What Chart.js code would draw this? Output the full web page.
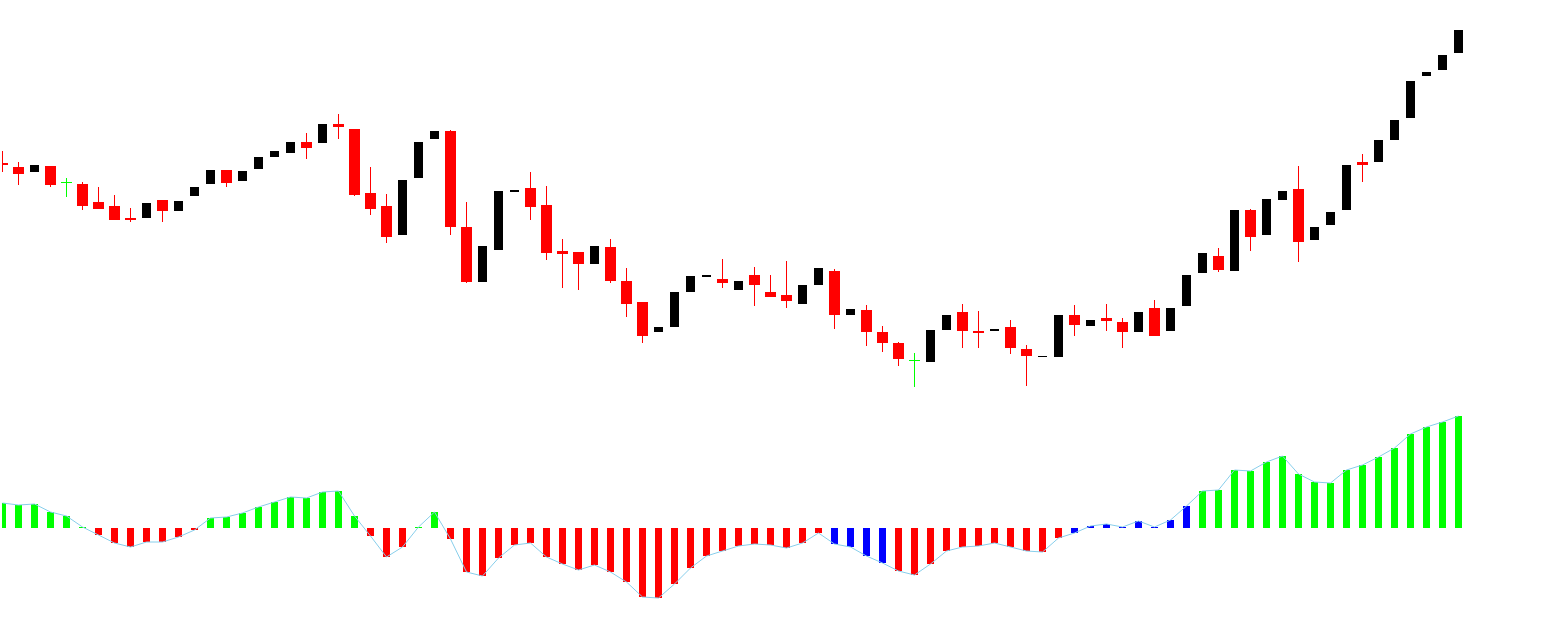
<!DOCTYPE html>
<html>
<head>
<meta charset="utf-8">
<script src="https://cdn.jsdelivr.net/npm/chart.js@4.4.1/dist/chart.umd.min.js"></script>
<style>
html,body{margin:0;padding:0;background:#ffffff;overflow:hidden}
#wrap{width:1568px;height:619px;position:relative}
</style>
</head>
<body>
<div id="wrap"><canvas id="c"></canvas></div>
<script>
// ---- Data ----
const bars = Array.from({length: 92}, (_, i) => i); // bar index (time axis)

const opens = [1837,1833,1828,1834,1818,1816,1798,1794,1782,1782,1800,1789,1804,1816,1830,1819,1831,1843,1847,1858,
               1857,1876,1871,1807,1794,1765,1822,1861,1869,1773,1718,1750,1808,1812,1795,1749,1748,1736,1753,1719,
               1698,1668,1673,1708,1723,1721,1710,1725,1708,1705,1696,1715,1729,1685,1690,1668,1657,1640,1638,1670,
               1688,1669,1669,1673,1651,1643,1643,1685,1674,1682,1678,1668,1692,1669,1694,1727,1744,1729,1790,1765,
               1800,1811,1760,1775,1790,1838,1838,1860,1882,1924,1930,1947];
const highs = [1849,1838,1835,1834,1822,1818,1813,1805,1792,1797,1800,1799,1813,1830,1830,1829,1843,1849,1858,1867,
               1876,1886,1871,1833,1806,1820,1858,1869,1870,1798,1754,1809,1810,1828,1814,1761,1748,1754,1761,1732,
               1698,1673,1708,1724,1725,1741,1719,1733,1725,1739,1715,1732,1731,1691,1695,1674,1658,1647,1670,1685,
               1696,1689,1671,1680,1655,1644,1685,1695,1680,1696,1682,1688,1700,1692,1725,1747,1752,1790,1791,1801,
               1809,1834,1773,1788,1835,1846,1860,1880,1919,1928,1945,1970];
const lows  = [1828,1815,1828,1813,1803,1790,1791,1780,1778,1782,1778,1789,1804,1816,1813,1819,1831,1843,1847,1841,
               1857,1861,1804,1785,1757,1765,1822,1861,1765,1717,1718,1750,1808,1780,1740,1712,1710,1736,1717,1683,
               1657,1668,1673,1708,1723,1712,1710,1694,1703,1692,1696,1715,1671,1685,1654,1648,1634,1613,1638,1670,
               1652,1652,1669,1646,1614,1643,1643,1664,1674,1669,1652,1668,1664,1669,1694,1727,1728,1729,1749,1765,
               1800,1738,1760,1775,1790,1818,1838,1860,1882,1924,1930,1947];
const closes = [1835,1826,1835,1815,1818,1794,1791,1780,1780,1797,1789,1799,1813,1830,1817,1829,1843,1849,1858,1852,
               1876,1873,1805,1791,1763,1820,1858,1869,1773,1718,1754,1809,1810,1793,1747,1746,1736,1754,1719,1696,
               1664,1673,1708,1724,1725,1717,1719,1715,1703,1699,1715,1732,1685,1691,1668,1657,1641,1640,1670,1685,
               1669,1667,1671,1652,1644,1644,1685,1675,1680,1679,1668,1688,1664,1692,1725,1747,1730,1790,1763,1801,
               1809,1758,1773,1788,1835,1835,1860,1880,1919,1928,1945,1970];

// oscillator histogram (same values drawn by the signal line)
const oscValues = [2.5,2.3,2.4,1.6,1.2,0.1,-0.7,-1.5,-1.9,-1.4,-1.4,-0.9,-0.2,1.0,1.1,1.5,2.1,2.6,3.1,3.0,
                   3.6,3.7,1.2,-0.8,-2.9,-1.9,0.1,1.6,-1.1,-4.4,-4.8,-3.0,-1.7,-1.5,-2.9,-3.6,-4.2,-3.7,-4.4,-5.4,
                   -6.9,-7.0,-5.6,-4.0,-2.8,-2.3,-1.8,-1.6,-1.7,-2.0,-1.5,-0.5,-1.6,-1.9,-2.8,-3.5,-4.3,-4.7,-3.6,-2.3,
                   -1.9,-1.8,-1.5,-1.9,-2.3,-2.4,-1.0,-0.5,0.2,0.4,0.1,0.7,0.1,0.8,2.2,3.7,3.8,5.8,5.7,6.6,
                   7.2,5.4,4.6,4.5,5.8,6.3,7.1,8.0,9.4,10.1,10.6,11.2];
// oscillator state: 1 = bullish, -1 = bearish, 0 = neutral
const oscState = [1,1,1,1,1,1,-1,-1,-1,-1,-1,-1,-1,1,1,1,1,1,1,1,
                  1,1,1,-1,-1,-1,1,1,-1,-1,-1,-1,-1,-1,-1,-1,-1,-1,-1,-1,
                  -1,-1,-1,-1,-1,-1,-1,-1,-1,-1,-1,-1,0,0,0,0,-1,-1,-1,-1,
                  -1,-1,-1,-1,-1,-1,-1,0,0,0,0,0,0,0,0,1,1,1,1,1,
                  1,1,1,1,1,1,1,1,1,1,1,1];

// ---- Styles ----
const BULL = '#000000', BEAR = '#FF0000', DOJI = '#00FF00';
const OSC_UP = '#00FF00', OSC_DN = '#FF0000', OSC_NEU = '#0000FF', SIGNAL = '#87CEEB';

const kind = bars.map(i => closes[i] > opens[i] ? 'bull' : (closes[i] < opens[i] ? 'bear' : 'doji'));
const candleColor = k => k === 'bull' ? BULL : (k === 'bear' ? BEAR : DOJI);

const wickData = bars.map(i => ({x: i, y: [lows[i], highs[i]]}));
const wickColors = bars.map(i => candleColor(kind[i]));

const bullIdx = bars.filter(i => kind[i] === 'bull');
const bearIdx = bars.filter(i => kind[i] !== 'bull');
const bullBodies = bullIdx.map(i => ({x: i, y: [opens[i], closes[i]]}));
const bearBodies = bearIdx.map(i => ({x: i, y: opens[i] === closes[i] ? [opens[i], opens[i] - 1] : [opens[i], closes[i]]}));
const bearColors = bearIdx.map(i => candleColor(kind[i]));

const oscData = bars.map(i => ({x: i, y: oscValues[i]}));
const oscColors = bars.map(i => oscState[i] > 0 ? OSC_UP : (oscState[i] < 0 ? OSC_DN : OSC_NEU));

const common = {grouped: false, borderWidth: 0, inflateAmount: 0, borderSkipped: false};

new Chart(document.getElementById('c'), {
  type: 'bar',
  data: {
    datasets: [
      {type: 'line', data: oscData, yAxisID: 'yOsc', borderColor: SIGNAL, borderWidth: 1,
       pointRadius: 0, tension: 0, fill: false, order: 0},
      Object.assign({data: bullBodies, yAxisID: 'yPrice', backgroundColor: BULL, barThickness: 9, order: 1}, common),
      Object.assign({data: bearBodies, yAxisID: 'yPrice', backgroundColor: bearColors, barThickness: 11, order: 1}, common),
      Object.assign({data: wickData, yAxisID: 'yPrice', backgroundColor: wickColors, barThickness: 1, order: 2}, common),
      Object.assign({data: oscData, yAxisID: 'yOsc', backgroundColor: oscColors, barThickness: 7, order: 3}, common)
    ]
  },
  options: {
    responsive: true,
    maintainAspectRatio: false,
    animation: false,
    devicePixelRatio: 1,
    layout: {padding: {left: 2, right: 0, top: 0, bottom: 0}},
    plugins: {legend: {display: false}, tooltip: {enabled: false}},
    scales: {
      x: {type: 'linear', display: false, offset: false, min: -0.03125, max: 97.84375, bounds: 'data'},
      yPrice: {type: 'linear', display: false, min: 1381, max: 2000, bounds: 'data'},
      yOsc: {type: 'linear', display: false, min: -9.1, max: 52.8, bounds: 'data'}
    }
  }
});
</script>
</body>
</html>
